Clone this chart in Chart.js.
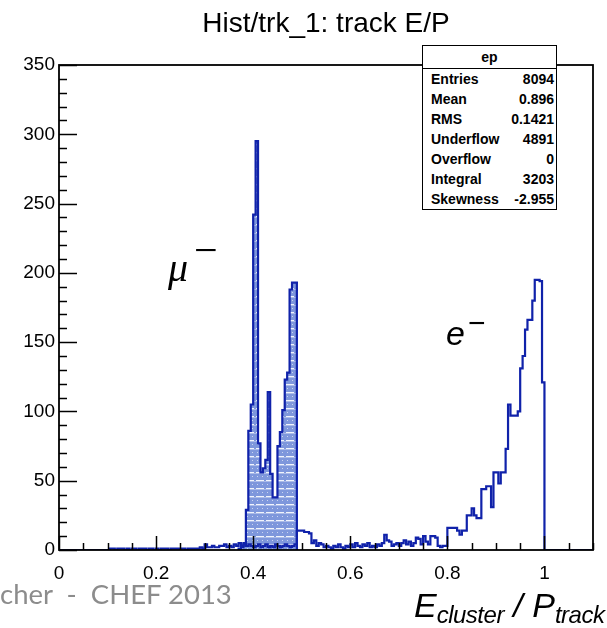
<!DOCTYPE html>
<html><head><meta charset="utf-8">
<script src="https://cdn.jsdelivr.net/npm/chart.js@4/dist/chart.umd.min.js"></script>
<style>
html,body{margin:0;padding:0;background:#fff;}
#wrap{position:relative;width:607px;height:628px;overflow:hidden;}
#c{position:absolute;left:0;top:0;}
.stats{position:absolute;left:422px;top:45px;width:135px;height:165px;box-sizing:border-box;border:1.5px solid #000;background:#fff;font-family:"Liberation Sans",Arial,sans-serif;font-weight:bold;font-size:14px;color:#000;z-index:2;}
.stats .hd{height:22px;line-height:22px;text-align:center;border-bottom:1.5px solid #000;}
.stats .row{height:20px;line-height:20px;display:flex;justify-content:space-between;padding:0 2px 0 8px;}
.lbl{position:absolute;font-family:"Liberation Sans",Arial,sans-serif;font-style:italic;color:#000;z-index:2;white-space:nowrap;line-height:1;}
.lbl sup{font-style:normal;vertical-align:0;position:relative;}
.axt{position:absolute;left:414px;top:588px;font-family:"Liberation Sans",Arial,sans-serif;font-style:italic;color:#000;white-space:nowrap;line-height:1;z-index:2;}
.axt .big{font-size:34px;}
.axt .sb{font-size:24px;position:relative;top:6px;letter-spacing:-0.5px;}
.wm{position:absolute;left:0;top:577px;font-family:Lato,"Open Sans",sans-serif;font-size:27.5px;color:#8c8c8c;white-space:pre;z-index:2;line-height:1.2;}
</style></head>
<body>
<div id="wrap">
<canvas id="c" width="607" height="628"></canvas>
<div class="stats" id="stats"></div>
<div class="lbl" style="left:168px;top:246px;font-size:40px;font-family:'Liberation Serif',serif;">μ<sup style="font-size:42px;top:-17px;left:6px;">−</sup></div>
<div class="lbl" style="left:446px;top:316px;font-size:34px;">e<sup style="font-size:30px;top:-12px;left:3px;">−</sup></div>
<div class="axt"><span class="big">E</span><span class="sb">cluster</span><span class="big"> / P</span><span class="sb">track</span></div>
<div class="wm">cher  -  CHEF 2013</div>
</div>
<script>
// ---------- data ----------
const chartTitle = 'Hist/trk_1: track E/P';
const binWidth = 0.005;
const muonStart = 0.37;
const muonCounts = [1,2,5,29,86,105,242,295,77,56,59,65,114,55,38,38,75,85,101,123,128,188,193,193];
const electronStart = 0.0;
const electronLow = [
  0,0,0,0,0,0,0,0,0,0,  0,0,0,0,0,0,0,0,0,0,
  0,1,1,0,1,1,1,0,1,0,  1,1,0,1,1,1,0,1,1,0,
  1,0,1,1,1,0,1,1,1,1
];
const electronMid1 = [
  1,1,0,1,1,1,1,1,2,1,  4,2,2,3,2,2,3,3,4,2,
  3,2,4,3,5,3,4,3,4,3,  2,3,4,2,3,4,2,3,2,4,
  3,2,3,4,3,2,3,4,14,14
];
const electronMid2 = [
  14,13,13,12,5,7,3,5,4,2,  3,2,1,3,2,4,2,1,3,2,
  4,2,5,3,2,4,3,5,2,3,  2,4,3,5,11,7,6,3,4,5,
  3,5,7,4,6,3,5,9,8,4
];
const electronHigh = [
  10,6,4,10,10,9,3,2,3,3,  16,16,16,16,14,11,14,14,25,25,
  30,25,23,23,44,44,46,46,31,56,  56,48,56,56,73,105,97,97,97,100,
  131,140,159,166,166,180,195,195,194,121
];
const xRange = [0, 1.1];
const yRange = [0, 350];
const xTickValues = [0, 0.2, 0.4, 0.6, 0.8, 1.0];
const xTickLabels = ['0', '0.2', '0.4', '0.6', '0.8', '1'];
const yTickValues = [0, 50, 100, 150, 200, 250, 300, 350];
const statLabels = ['Entries','Mean','RMS','Underflow','Overflow','Integral','Skewness'];
const statValues = ['8094','0.896','0.1421','4891','0','3203','-2.955'];
const statName = 'ep';

// ---------- stats box ----------
(function(){
  const box = document.getElementById('stats');
  let h = '<div class="hd">' + statName + '</div>';
  statLabels.forEach((l,i)=>{ h += '<div class="row"><span>'+l+'</span><span>'+statValues[i]+'</span></div>'; });
  box.innerHTML = h;
})();

// ---------- helpers ----------
function histPoints(start, counts, width, endX) {
  const pts = [{x: start, y: 0}];
  counts.forEach((v, i) => pts.push({x: +(start + i*width).toFixed(4), y: v}));
  const last = +(start + counts.length*width).toFixed(4);
  pts.push({x: last, y: 0});
  if (endX !== undefined && endX > last) pts.push({x: endX, y: 0});
  return pts;
}
const electronCounts = electronLow.concat(electronMid1, electronMid2, electronHigh);

function makePattern() {
  const p = document.createElement('canvas');
  p.width = 10; p.height = 8;
  const g = p.getContext('2d');
  g.fillStyle = '#7e97dc'; g.fillRect(0,0,10,8);
  g.fillStyle = '#ffffff';
  g.globalAlpha = 0.9;
  g.fillRect(0,0,4,1); g.fillRect(6,0,4,1);
  g.globalAlpha = 0.6;
  g.fillRect(2,4,1,1); g.fillRect(7,4,1,1);
  g.globalAlpha = 0.35; g.fillRect(0,1,10,1);
  return g.createPattern(p, 'repeat');
}

const lineColor = '#1022aa';
const baseFont = '"Liberation Sans", Arial, sans-serif';
Chart.defaults.color = '#000';

const rootAxes = {
  id: 'rootAxes',
  afterDatasetsDraw(chart) {
    const {ctx, chartArea: a, scales: {x, y}} = chart;
    ctx.save();
    ctx.strokeStyle = '#000';
    ctx.lineWidth = 1.5;
    for (let i = 0; i <= 35; i++) {
      const py = Math.round(y.getPixelForValue(i*10)) + 0.5;
      const len = (i % 5 === 0) ? 18 : 8;
      ctx.beginPath(); ctx.moveTo(a.left, py); ctx.lineTo(a.left + len, py); ctx.stroke();
    }
    for (let i = 0; i <= 22; i++) {
      const px = Math.round(x.getPixelForValue(i*0.05)) + 0.5;
      const len = (i % 4 === 0) ? 14 : 7;
      ctx.beginPath(); ctx.moveTo(px, a.bottom); ctx.lineTo(px, a.bottom - len); ctx.stroke();
    }
    ctx.lineWidth = 1.8;
    ctx.strokeRect(a.left, a.top, a.right - a.left, a.bottom - a.top);
    ctx.restore();
  }
};

new Chart(document.getElementById('c'), {
  type: 'line',
  data: {
    datasets: [
      {
        label: 'mu',
        data: histPoints(muonStart, muonCounts, binWidth),
        stepped: 'before',
        borderColor: lineColor,
        borderWidth: 2.2,
        backgroundColor: makePattern(),
        fill: 'origin',
        pointRadius: 0,
        order: 2
      },
      {
        label: 'e',
        data: histPoints(electronStart, electronCounts, binWidth, xRange[1]),
        stepped: 'before',
        borderColor: lineColor,
        borderWidth: 2.2,
        fill: false,
        pointRadius: 0,
        order: 1
      }
    ]
  },
  options: {
    responsive: false,
    animation: false,
    devicePixelRatio: 1,
    layout: {padding: {left: 0, right: 14, top: 0, bottom: 0}},
    plugins: {
      legend: {display: false},
      tooltip: {enabled: false},
      title: {
        display: true, text: chartTitle, fullSize: false,
        font: {family: baseFont, size: 28, weight: 'normal', lineHeight: 1.2},
        color: '#000',
        padding: {top: 7, bottom: 24.4}
      }
    },
    scales: {
      x: {
        type: 'linear', min: xRange[0], max: xRange[1],
        grid: {display: false, drawTicks: false},
        border: {display: false},
        afterBuildTicks: s => { s.ticks = xTickValues.map(v => ({value: v})); },
        afterFit: s => { s.height = 78; },
        ticks: {
          padding: 12,
          font: {family: baseFont, size: 19},
          color: '#000',
          maxRotation: 0,
          autoSkip: false,
          callback: (v) => { const i = xTickValues.findIndex(t => Math.abs(t - v) < 1e-6); return i >= 0 ? xTickLabels[i] : ''; }
        }
      },
      y: {
        type: 'linear', min: yRange[0], max: yRange[1],
        grid: {display: false, drawTicks: false},
        border: {display: false},
        afterBuildTicks: s => { s.ticks = yTickValues.map(v => ({value: v})); },
        afterFit: s => { s.width = 59; },
        ticks: {
          padding: 4,
          font: {family: baseFont, size: 19},
          color: '#000',
          autoSkip: false
        }
      }
    }
  },
  plugins: [rootAxes]
});
</script>
</body></html>
